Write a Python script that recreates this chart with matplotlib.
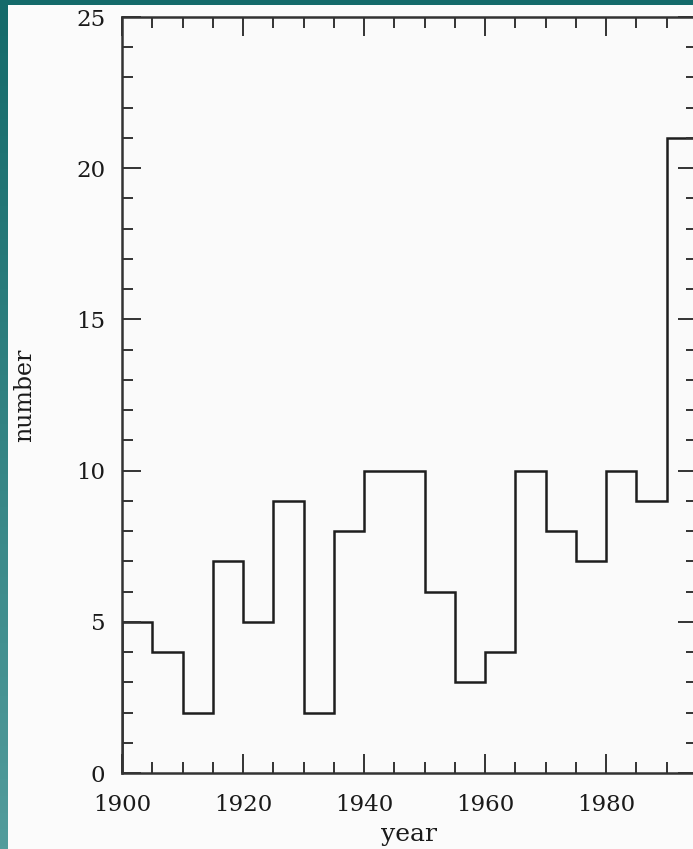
import numpy as np
import matplotlib
matplotlib.use("Agg")
import matplotlib.pyplot as plt
from matplotlib.patches import Rectangle
from matplotlib.ticker import MultipleLocator

bin_edges = [1900, 1905, 1910, 1915, 1920, 1925, 1930, 1935, 1940, 1945,
             1950, 1955, 1960, 1965, 1970, 1975, 1980, 1985, 1990, 1995]
counts = [5, 4, 2, 7, 5, 9, 2, 8, 10, 10, 6, 3, 4, 10, 8, 7, 10, 9, 21]
x_ticks = [1900, 1920, 1940, 1960, 1980]
y_ticks = [0, 5, 10, 15, 20, 25]

W, H = 693, 849
fig = plt.figure(figsize=(W / 100, H / 100), dpi=100)
fig.patch.set_facecolor("#fbfbfb")

# teal frame: top band and left gradient band
fig.patches.append(Rectangle((0, 1 - 5 / H), 1, 5 / H, transform=fig.transFigure,
                             facecolor="#146a6a", edgecolor="none", zorder=0))
gax = fig.add_axes([0, 0, 7 / W, 1])
grad = np.linspace(0, 1, 256).reshape(-1, 1)
c_top = np.array([0x14, 0x6a, 0x6a]) / 255
c_bot = np.array([0x52, 0x9c, 0x9c]) / 255
img = c_top[None, None, :] * (1 - grad[:, :, None]) + c_bot[None, None, :] * grad[:, :, None]
gax.imshow(img, aspect="auto", extent=[0, 1, 0, 1])
gax.set_axis_off()

left, right, bottom, top = 122, 697, 773, 17
ax = fig.add_axes([left / W, 1 - bottom / H, (right - left) / W, (bottom - top) / H])
ax.set_facecolor("#fafafa")

ax.stairs(counts, bin_edges, color="#1e1e1e", linewidth=1.8)

ax.set_xlim(1900, 1995)
ax.set_ylim(0, 25)
ax.set_xticks(x_ticks)
ax.set_yticks(y_ticks)
ax.xaxis.set_minor_locator(MultipleLocator(5))
ax.yaxis.set_minor_locator(MultipleLocator(1))
ax.tick_params(which="both", direction="in", top=True, right=True,
               color="#333333", width=1.4, labelsize=16.5, labelcolor="#1a1a1a")
ax.tick_params(which="major", length=14)
ax.tick_params(which="minor", length=8)
ax.tick_params(axis="x", pad=15)
ax.tick_params(axis="y", pad=12)
for s in ax.spines.values():
    s.set_linewidth(1.8)
    s.set_color("#333333")
for lab in ax.get_xticklabels() + ax.get_yticklabels():
    lab.set_family("DejaVu Serif")

ax.set_xlabel("year", family="DejaVu Serif", fontsize=18, color="#1a1a1a")
ax.set_ylabel("number", family="DejaVu Serif", fontsize=17, color="#1a1a1a")
ax.xaxis.set_label_coords((409 - left) / (right - left), -(835 - bottom) / (bottom - top))
ax.yaxis.set_label_coords((25 - left) / (right - left), (bottom - 395) / (bottom - top))
ax.xaxis.label.set_va("center")
ax.yaxis.label.set_va("center")

fig.savefig("out.png", dpi=100, facecolor=fig.get_facecolor())
